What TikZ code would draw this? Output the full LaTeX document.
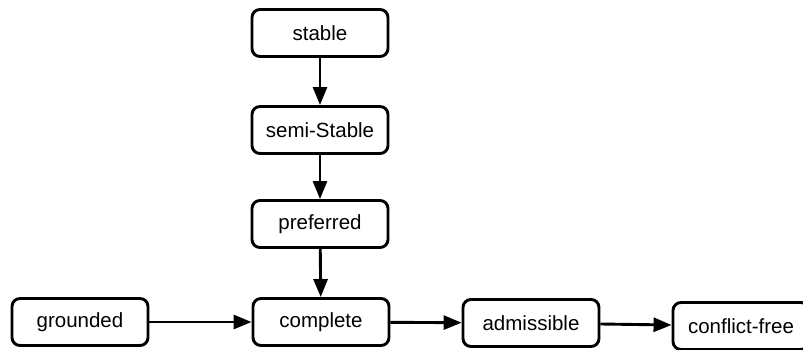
\documentclass[tikz,border=0pt]{standalone}
\usepackage{fontspec}
\setmainfont{Liberation Sans}
\usetikzlibrary{arrows.meta}
\begin{document}
\begin{tikzpicture}[x=1pt,y=-1pt,
  box/.style={draw=black,line width=2.9pt,rounded corners=8pt,fill=white,
    minimum width=136pt,minimum height=47pt,inner sep=0pt,font=\fontsize{20.5}{24}\selectfont},
  conn/.style={line width=2.9pt,-{Triangle[length=18pt,width=14pt]}}]
\clip (0,0) rectangle (803,349);
\fill[white] (0,0) rectangle (803,349);
\node[box] (stable) at (320,33) {stable};
\node[box] (semi) at (320,130) {semi-Stable};
\node[box] (pref) at (320,224) {preferred};
\node[box] (comp) at (321,322) {complete};
\node[box] (ground) at (80,322) {grounded};
\node[box] (adm) at (531,323) {admissible};
\node[box] (cf) at (741,326) {conflict-free};
\draw[conn] (stable) -- (semi);
\draw[conn] (semi) -- (pref);
\draw[conn] (pref) -- (comp);
\draw[conn] (ground) -- (comp);
\draw[conn] (comp) -- (adm);
\draw[conn] (adm) -- (cf);
\end{tikzpicture}
\end{document}
